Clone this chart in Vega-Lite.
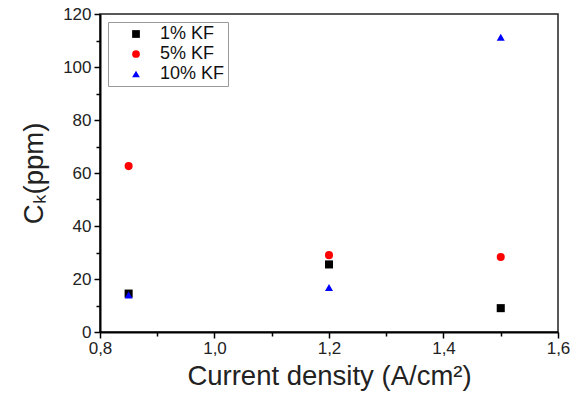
{
  "$schema": "https://vega.github.io/schema/vega-lite/v6.json",
  "autosize": {"type": "none"},
  "width": 458,
  "height": 318,
  "padding": {"left": 100, "top": 14, "right": 21, "bottom": 72},
  "background": "white",
  "config": {
    "font": "Liberation Sans",
    "view": {"stroke": "#222", "strokeWidth": 1.5},
    "axis": {"grid": false, "domainColor": "#000", "domainWidth": 2, "tickColor": "#000", "tickWidth": 1.5, "labelFont": "Liberation Sans", "labelFontSize": 17, "labelColor": "#222", "labelFlush": false, "labelOverlap": false, "titleFont": "Liberation Sans", "titleFontWeight": "normal", "titleFontSize": 27.5, "titleColor": "#222"}
  },
  "data": {
    "values": [
      {"x": 0.85, "c": 14.5, "s": "1% KF"},
      {"x": 1.2, "c": 25.5, "s": "1% KF"},
      {"x": 1.5, "c": 9, "s": "1% KF"},
      {"x": 0.85, "c": 62.6, "s": "5% KF"},
      {"x": 1.2, "c": 29, "s": "5% KF"},
      {"x": 1.5, "c": 28.3, "s": "5% KF"},
      {"x": 0.85, "c": 14, "s": "10% KF"},
      {"x": 1.2, "c": 16.8, "s": "10% KF"},
      {"x": 1.5, "c": 111.2, "s": "10% KF"}
    ]
  },
  "mark": {"type": "point", "filled": true, "opacity": 1, "size": 65},
  "encoding": {
    "x": {
      "field": "x", "type": "quantitative",
      "scale": {"domain": [0.8, 1.6], "nice": false, "zero": false},
      "axis": {
        "title": "Current density (A/cm²)",
        "values": [0.8, 0.9, 1.0, 1.1, 1.2, 1.3, 1.4, 1.5, 1.6],
        "labelExpr": "abs(datum.value*10 % 2) < 0.01 || abs(datum.value*10 % 2 - 2) < 0.01 ? replace(format(datum.value, '.1f'), '.', ',') : ''",
        "tickSize": {"condition": {"test": "abs(datum.value*10 % 2) < 0.01 || abs(datum.value*10 % 2 - 2) < 0.01", "value": 6}, "value": 4},
        "labelPadding": 2,
        "titlePadding": 6
      }
    },
    "y": {
      "field": "c", "type": "quantitative",
      "scale": {"domain": [0, 120], "nice": false},
      "axis": {
        "title": "Cₖ(ppm)",
        "values": [0, 10, 20, 30, 40, 50, 60, 70, 80, 90, 100, 110, 120],
        "labelExpr": "datum.value % 20 === 0 ? datum.label : ''",
        "tickSize": {"condition": {"test": "datum.value % 20 === 0", "value": 6}, "value": 4},
        "labelPadding": 3,
        "titlePadding": 14
      }
    },
    "color": {
      "field": "s", "type": "nominal",
      "scale": {"domain": ["1% KF", "5% KF", "10% KF"], "range": ["#000000", "#ff0000", "#0000ff"]},
      "legend": {
        "title": null, "orient": "none", "legendX": 8, "legendY": 8,
        "strokeColor": "#999", "padding": 3, "rowPadding": 2, "symbolOffset": 16,
        "labelFontSize": 18, "labelFont": "Liberation Sans", "labelColor": "#111", "labelOffset": 15,
        "symbolSize": 60, "symbolOpacity": 1
      }
    },
    "shape": {
      "field": "s", "type": "nominal",
      "scale": {"domain": ["1% KF", "5% KF", "10% KF"], "range": ["square", "circle", "triangle-up"]},
      "legend": null
    }
  }
}
